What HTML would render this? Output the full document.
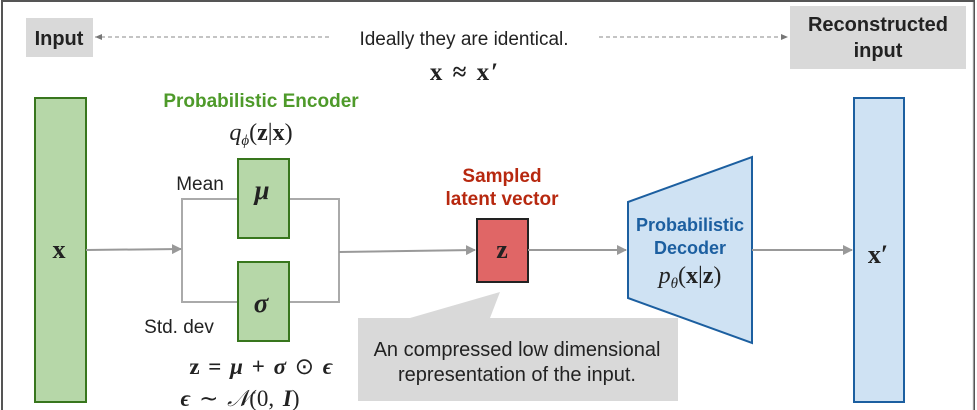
<!DOCTYPE html>
<html><head><meta charset="utf-8"><style>
body{margin:0;background:#fff;}
svg{display:block}
text{font-family:"Liberation Sans",sans-serif;}
.m{font-family:"Liberation Serif",serif;}
</style></head><body>
<svg width="977" height="410" viewBox="0 0 977 410">
<defs>
<marker id="a" markerWidth="10" markerHeight="10" refX="9" refY="5" orient="auto" markerUnits="userSpaceOnUse"><path d="M0,0 L10,5 L0,10z" fill="#999"/></marker>
<marker id="s" markerWidth="8" markerHeight="8" refX="7" refY="4" orient="auto" markerUnits="userSpaceOnUse"><path d="M0,1 L7,4 L0,7z" fill="#777"/></marker>
</defs>
<rect x="2" y="1" width="972" height="412" fill="none" stroke="#555" stroke-width="2"/>
<line x1="973" y1="2" x2="973" y2="410" stroke="#ddd"/>
<!-- Input -->
<rect x="26" y="18" width="67" height="39" fill="#d9d9d9"/>
<text x="59" y="45" font-size="20" font-weight="bold" text-anchor="middle" fill="#222">Input</text>
<line x1="329" y1="37" x2="95" y2="37" stroke="#888" stroke-dasharray="4,3" marker-end="url(#s)"/>
<text x="464" y="45" font-size="19" text-anchor="middle" fill="#222">Ideally they are identical.</text>
<text x="465" y="80" class="m" font-size="25" font-weight="bold" text-anchor="middle" fill="#222" letter-spacing="2">x ≈ x′</text>
<line x1="599" y1="37" x2="788" y2="37" stroke="#888" stroke-dasharray="4,3" marker-end="url(#s)"/>
<rect x="790" y="6" width="176" height="63" fill="#d9d9d9"/>
<text x="878" y="31" font-size="20" font-weight="bold" text-anchor="middle" fill="#222">Reconstructed</text>
<text x="878" y="57" font-size="20" font-weight="bold" text-anchor="middle" fill="#222">input</text>
<!-- x bar -->
<rect x="35" y="98" width="51" height="304" fill="#b6d7a8" stroke="#38761d" stroke-width="2"/>
<text x="59" y="258" class="m" font-size="26" font-weight="bold" text-anchor="middle" fill="#222">x</text>
<text x="261" y="107" font-size="19" font-weight="bold" text-anchor="middle" fill="#4e9a2a">Probabilistic Encoder</text>
<text x="261" y="140" class="m" font-size="24" text-anchor="middle" fill="#222"><tspan font-style="italic">q</tspan><tspan font-style="italic" font-size="15" dy="5">ϕ</tspan><tspan dy="-5">(<tspan font-weight="bold">z</tspan>|<tspan font-weight="bold">x</tspan>)</tspan></text>
<!-- bracket -->
<path d="M238,199 H182 V302 H238 M289,199 H339 V302 H289" fill="none" stroke="#aaa" stroke-width="2"/>
<line x1="86" y1="250" x2="181" y2="249" stroke="#999" stroke-width="2" marker-end="url(#a)"/>
<line x1="339" y1="252" x2="475" y2="250" stroke="#999" stroke-width="2" marker-end="url(#a)"/>
<rect x="238" y="159" width="51" height="79" fill="#b6d7a8" stroke="#38761d" stroke-width="2"/>
<text x="262" y="199" class="m" font-size="27" font-weight="bold" font-style="italic" text-anchor="middle" fill="#222">μ</text>
<rect x="238" y="262" width="51" height="79" fill="#b6d7a8" stroke="#38761d" stroke-width="2"/>
<text x="261" y="312" class="m" font-size="27" font-weight="bold" font-style="italic" text-anchor="middle" fill="#222">σ</text>
<text x="200" y="190" font-size="19" text-anchor="middle" fill="#222">Mean</text>
<text x="179" y="333" font-size="19" text-anchor="middle" fill="#222">Std. dev</text>
<text x="261" y="374" class="m" font-size="23" font-weight="bold" text-anchor="middle" fill="#222" word-spacing="3">z = <tspan font-style="italic">μ</tspan> + <tspan font-style="italic">σ</tspan> <tspan font-weight="normal">⊙</tspan> <tspan font-style="italic">ϵ</tspan></text>
<text x="240" y="406" class="m" font-size="23" text-anchor="middle" fill="#222" word-spacing="3"><tspan font-weight="bold" font-style="italic">ϵ</tspan> ∼ <tspan font-style="italic">𝒩</tspan>(0, <tspan font-weight="bold" font-style="italic">I</tspan>)</text>
<!-- z -->
<text x="502" y="182" font-size="19" font-weight="bold" text-anchor="middle" fill="#b7280f">Sampled</text>
<text x="502" y="205" font-size="19" font-weight="bold" text-anchor="middle" fill="#b7280f">latent vector</text>
<rect x="477" y="219" width="51" height="63" fill="#e06666" stroke="#222" stroke-width="2"/>
<text x="502" y="258" class="m" font-size="26" font-weight="bold" text-anchor="middle" fill="#222">z</text>
<!-- callout -->
<path d="M358,318 H410 L500,292 L490,318 H678 V401 H358z" fill="#d9d9d9"/>
<text x="517" y="356" font-size="20" text-anchor="middle" fill="#222">An compressed low dimensional</text>
<text x="517" y="381" font-size="20" text-anchor="middle" fill="#222">representation of the input.</text>
<!-- decoder -->
<line x1="528" y1="250" x2="626" y2="250" stroke="#999" stroke-width="2" marker-end="url(#a)"/>
<path d="M628,202 L752,157 V343 L628,298z" fill="#cfe2f3" stroke="#1c5fa0" stroke-width="2"/>
<text x="690" y="231" font-size="18" font-weight="bold" text-anchor="middle" fill="#1c5fa0">Probabilistic</text>
<text x="690" y="254" font-size="18" font-weight="bold" text-anchor="middle" fill="#1c5fa0">Decoder</text>
<text x="690" y="283" class="m" font-size="24" text-anchor="middle" fill="#222"><tspan font-style="italic">p</tspan><tspan font-style="italic" font-size="15" dy="5">θ</tspan><tspan dy="-5">(<tspan font-weight="bold">x</tspan>|<tspan font-weight="bold">z</tspan>)</tspan></text>
<line x1="752" y1="250" x2="852" y2="250" stroke="#999" stroke-width="2" marker-end="url(#a)"/>
<rect x="854" y="98" width="50" height="304" fill="#cfe2f3" stroke="#1c5fa0" stroke-width="2"/>
<text x="878" y="263" class="m" font-size="26" font-weight="bold" text-anchor="middle" fill="#222">x′</text>
</svg>
</body></html>
